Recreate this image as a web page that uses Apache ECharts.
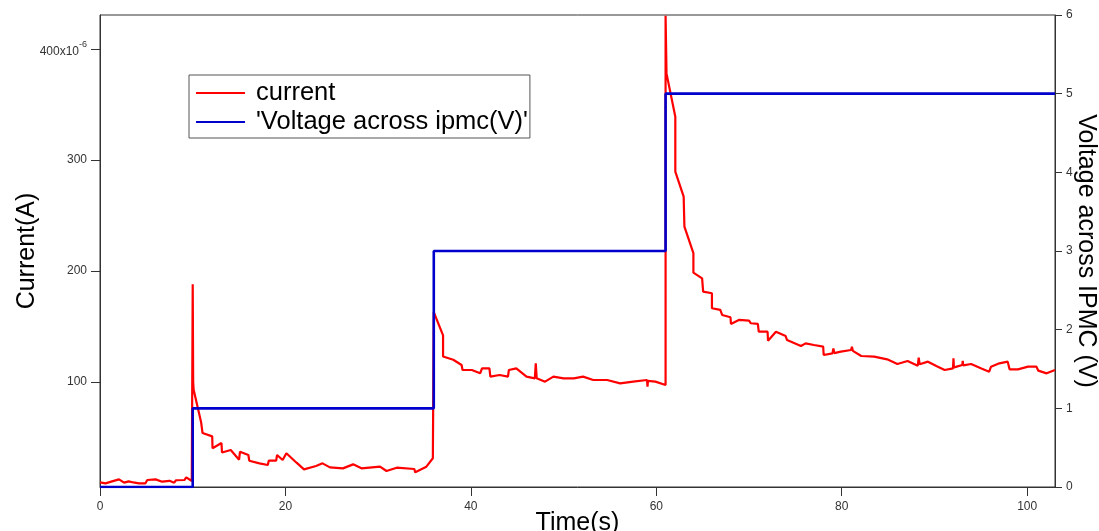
<!DOCTYPE html>
<html>
<head>
<meta charset="utf-8">
<script src="https://cdn.jsdelivr.net/npm/echarts@6/dist/echarts.min.js"></script>
<style>
html,body{margin:0;padding:0;background:#fff;}
#chart{width:1099px;height:531px;}
</style>
</head>
<body>
<div id="chart"></div>
<script>
// Current (in units of 1e-6 A) versus time (s)
const currentTime = [
  0.0, 0.6, 1.3, 2.05, 2.6, 3.1, 3.6, 4.2, 4.9, 5.1, 6.0, 6.7, 7.5, 8.0, 8.2, 9.1, 9.3, 9.9, 10.0,
  10.0, 10.05, 10.1, 10.9, 11.06, 12.1, 12.14, 13.1, 13.16, 14.1, 15.0, 15.1, 16.0, 16.1, 17.2, 18.1, 18.2,
  19.0, 19.1, 19.7, 20.1, 21.2, 22.0, 23.3, 24.0, 24.8, 26.2, 27.3, 28.2, 30.2, 30.9, 32.0, 33.9, 34.0,
  35.2, 35.9, 36.0,
  36.0, 37.0, 37.0, 38.1, 39.0, 39.1, 40.1, 41.0, 41.2, 42.0, 42.1, 43.1, 44.0, 44.1, 44.9, 46.0, 46.9,
  47.0, 47.1, 48.0, 48.9, 50.0, 51.1, 52.1, 53.2, 54.7, 56.1, 57.5, 59.0, 59.05, 59.1, 59.9, 61.0,
  61.0, 61.1, 62.05, 62.05, 62.95, 63.03, 64.0, 64.0, 64.94, 65.05, 66.0, 66.0, 66.9, 67.1, 68.0, 68.05,
  68.9, 70.0, 70.2, 70.95, 71.05, 72.0, 72.05, 72.9, 73.95, 74.1, 75.6, 76.1, 77.0, 78.0, 78.05, 79.0,
  79.1, 79.2, 79.9, 81.0, 81.1, 81.2, 82.1, 83.5, 84.9, 86.0, 87.1, 88.2, 88.3, 88.4, 89.3, 90.2, 91.1,
  92.0, 92.05, 92.1, 92.4, 93.0, 93.05, 93.1, 93.95, 95.0, 95.9, 96.1, 97.0, 97.2, 97.9, 98.1, 99.0,
  100.1, 101.0, 101.2, 102.1, 103.0
];
const currentValue = [
  9.5, 8.7, 10.5, 12.3, 9.3, 10.5, 9.5, 8.7, 8.7, 11.7, 12.3, 10.2, 11.0, 9.3, 11.5, 11.7, 14.1, 10.8, 10.0,
  188, 100, 93, 64, 54, 51, 40.3, 45, 36.5, 38.7, 30, 37.2, 34.2, 29.1, 26.7, 25.2, 29.1,
  29.1, 34.2, 29.7, 35.8, 27.3, 21.3, 24.3, 26.7, 23.1, 22.2, 25.8, 22.2, 23.7, 19.8, 22.8, 21.6, 18.6,
  23.7, 31.3, 31.3,
  163, 142, 123, 120, 115.3, 110.8, 110.8, 107.8, 112.3, 112.3, 104.8, 106.3, 104.8, 110.8, 112.3, 104.8, 103.3,
  116.8, 103.3, 100.3, 104.8, 103.3, 103.3, 104.8, 101.8, 101.8, 98.8, 100.3, 101.8, 95.8, 101.0, 100.3, 97.3,
  430, 378, 339, 289.5, 266.9, 240, 216, 198.5, 193.4, 181.4, 179.9, 166.4, 164.9, 160.4, 158.3, 152.3,
  155.9, 155.3, 152.9, 152.3, 145.3, 145.3, 137.2, 145.3, 141.4, 137.8, 132.4, 134.8, 133.3, 131.8, 124.3, 125.8,
  130.3, 126, 127.3, 128.8, 131.8, 128, 123.4, 122.8, 120.4, 116.2, 118.9, 114.7, 121.9, 116, 118.3, 114.4, 110.8,
  112.3, 121.3, 113, 113.8, 115.3, 119, 115, 116.2, 112.3, 109.3, 113.8, 116.8, 118.3, 118.3, 111.4, 111.4,
  113.8, 113.8, 110.2, 107.8, 110.8
];
// Voltage across IPMC (V): step changes
const voltageTime = [0, 10, 36, 61, 103];
const voltageValue = [0, 1, 3, 5, 5];

const xTicks = [0, 20, 40, 60, 80, 100];
const currentTicks = [100, 200, 300, 400];

const seriesNames = ['current', "'Voltage across ipmc(V)'"];

const currentData = currentTime.map((t, i) => [t, currentValue[i]]);
const voltageData = voltageTime.map((t, i) => [t, voltageValue[i]]);

const FONT = "'Liberation Sans', Arial, sans-serif";
const chart = echarts.init(document.getElementById('chart'), null, {renderer: 'canvas'});
chart.setOption({
  animation: false,
  backgroundColor: '#fff',
  textStyle: {fontFamily: FONT},
  grid: {left: 100, right: 44, top: 15, bottom: 44, outerBoundsMode: 'none', containLabel: false,
         show: true, borderColor: '#333', borderWidth: 1, backgroundColor: 'transparent'},
  legend: {
    data: seriesNames,
    orient: 'vertical',
    left: 189, top: 75,
    padding: [5, 2, 3, 6],
    itemGap: 3,
    itemWidth: 49, itemHeight: 3,
    borderColor: '#555', borderWidth: 1,
    backgroundColor: '#fff',
    itemStyle: {opacity: 0},
    textStyle: {fontFamily: FONT, fontSize: 25.5, lineHeight: 26, color: '#000', padding: [0, 0, 0, 6]}
  },
  xAxis: {
    type: 'value', min: 0, max: 103,
    name: 'Time(s)', nameLocation: 'middle', nameGap: 24, nameMoveOverlap: false,
    nameTextStyle: {fontFamily: FONT, fontSize: 25, color: '#000'},
    axisLine: {show: true, lineStyle: {color: '#333', width: 1}},
    axisTick: {show: true, length: 9, customValues: xTicks, lineStyle: {color: '#333'}},
    axisLabel: {customValues: xTicks, fontSize: 12, color: '#333', margin: 14, fontFamily: FONT},
    splitLine: {show: false}
  },
  yAxis: [{
    type: 'value', min: 5.4, max: 430.6, position: 'left',
    name: 'Current(A)', nameLocation: 'middle', nameGap: 60, nameMoveOverlap: false,
    nameTextStyle: {fontFamily: FONT, fontSize: 25, color: '#000'},
    axisLine: {show: true, lineStyle: {color: '#333', width: 1}},
    axisTick: {show: true, length: 9, customValues: currentTicks, lineStyle: {color: '#333'}},
    axisLabel: {
      customValues: currentTicks, fontSize: 12, color: '#333', margin: 13, fontFamily: FONT,
      formatter: v => v === 400 ? '{n|400x10}{s|-6}' : String(v),
      rich: {
        n: {fontSize: 12, color: '#333', fontFamily: FONT, verticalAlign: 'bottom'},
        s: {fontSize: 9, color: '#333', fontFamily: FONT, verticalAlign: 'bottom', padding: [0, 0, 8, 0]}
      }
    },
    splitLine: {show: false}
  }, {
    type: 'value', min: 0, max: 6, interval: 1, position: 'right',
    name: 'Voltage across IPMC (V)', nameLocation: 'middle', nameGap: 18, nameRotate: -90, nameMoveOverlap: false,
    nameTextStyle: {fontFamily: FONT, fontSize: 25, color: '#000'},
    axisLine: {show: true, lineStyle: {color: '#333', width: 1}},
    axisTick: {show: true, length: 7, lineStyle: {color: '#333'}},
    axisLabel: {fontSize: 12, color: '#333', margin: 11, fontFamily: FONT},
    splitLine: {show: false}
  }],
  series: [{
    name: seriesNames[0], type: 'line', yAxisIndex: 0,
    data: currentData, symbol: 'none', showSymbol: false,
    lineStyle: {color: '#ff0000', width: 2.2}, itemStyle: {color: '#ff0000'}
  }, {
    name: seriesNames[1], type: 'line', yAxisIndex: 1, step: 'end',
    data: voltageData, symbol: 'none', showSymbol: false,
    lineStyle: {color: '#0000cc', width: 2.6}, itemStyle: {color: '#0000cc'}
  }]
});
</script>
</body>
</html>
